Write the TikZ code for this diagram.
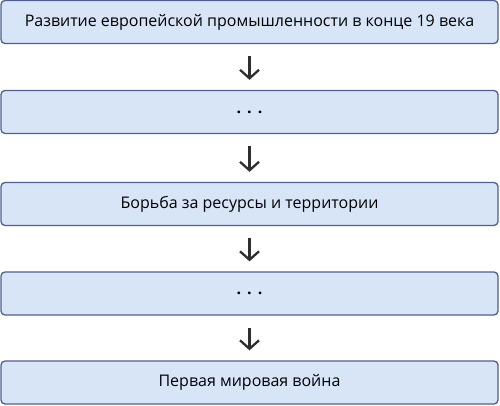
\documentclass[tikz,border=0pt]{standalone}
\usepackage{fontspec}
\setmainfont{Open Sans}
\usetikzlibrary{arrows.meta}
\definecolor{boxfill}{HTML}{D8E5F7}
\definecolor{boxline}{HTML}{4F5F8F}
\definecolor{arrowc}{HTML}{2E2E2E}
\begin{document}
\begin{tikzpicture}[x=1pt,y=-1pt,
  stagebox/.style={draw=boxline,fill=boxfill,line width=1.3pt,rounded corners=4pt,
    minimum width=497pt,minimum height=43pt,inner sep=0pt,font=\fontsize{16}{19}\selectfont,text=black},
  flowarrow/.style={draw=arrowc,line width=2.3pt,-{Straight Barb[length=8.5pt,width=19pt,line width=2.3pt]},shorten <=12pt,shorten >=10pt}]
\useasboundingbox (0,0) rectangle (500,405);
\node[stagebox] (b1) at (249.5,22) {Развитие европейской промышленности в конце 19 века};
\node[stagebox] (b2) at (249.5,112) {\textbf{.}\hspace{6pt}\textbf{.}\hspace{6pt}\textbf{.}};
\node[stagebox] (b3) at (249.5,204) {Борьба за ресурсы и территории};
\node[stagebox] (b4) at (249.5,293.5) {\textbf{.}\hspace{6pt}\textbf{.}\hspace{6pt}\textbf{.}};
\node[stagebox] (b5) at (249.5,382.5) {Первая мировая война};
\draw[flowarrow] (b1) -- (b2);
\draw[flowarrow] (b2) -- (b3);
\draw[flowarrow] (b3) -- (b4);
\draw[flowarrow] (b4) -- (b5);
\end{tikzpicture}
\end{document}
